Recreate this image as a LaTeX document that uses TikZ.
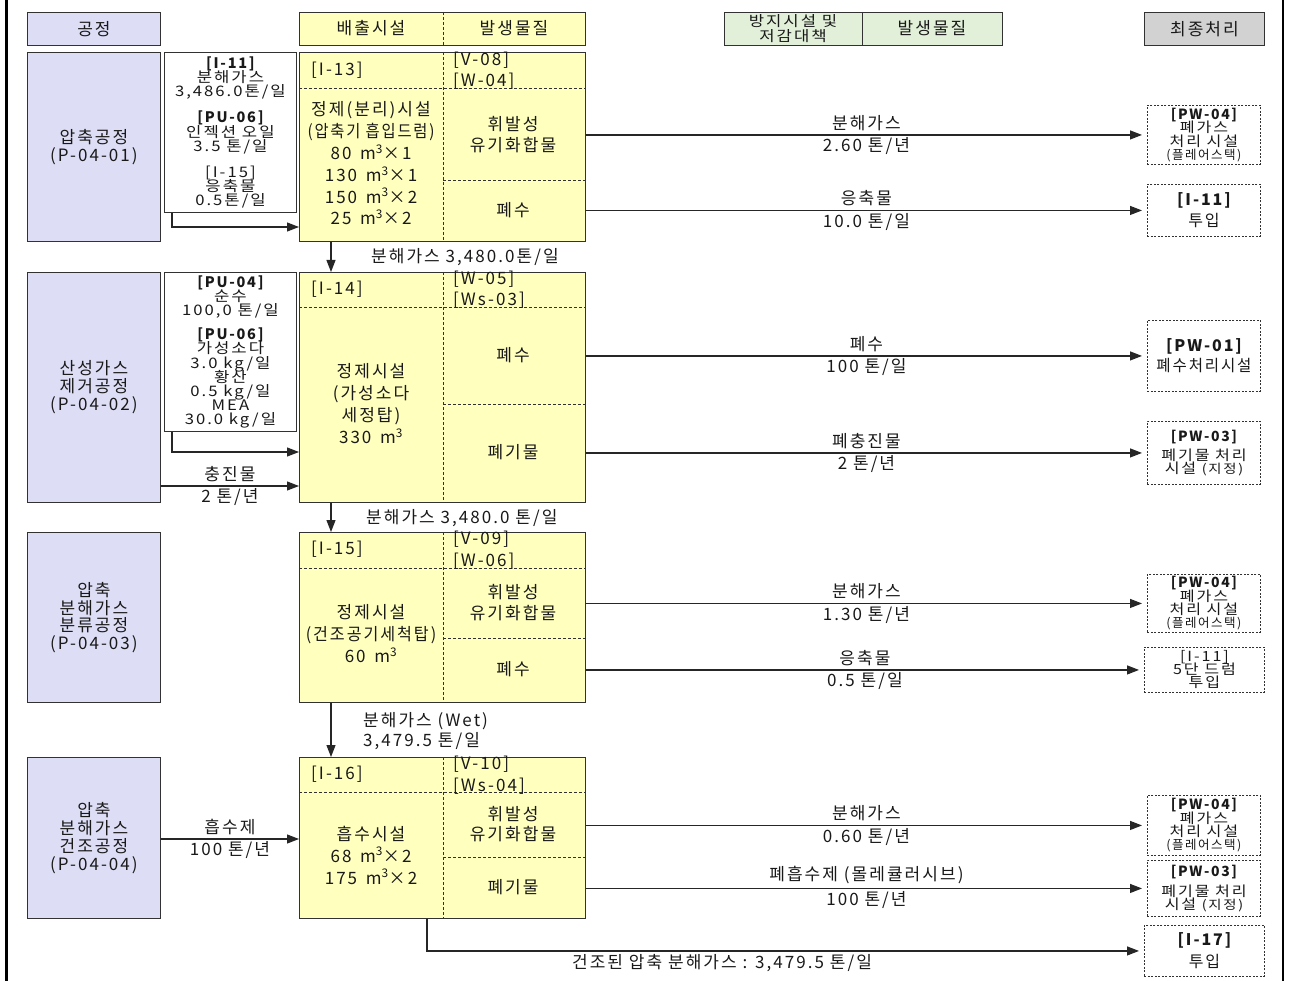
\documentclass[tikz,border=0pt]{standalone}
\usepackage{graphicx}
\usepackage{fontspec}
\setmainfont{Noto Sans CJK KR}[LetterSpace=12]
\usetikzlibrary{arrows.meta,calc}
\definecolor{lav}{RGB}{221,221,245}
\definecolor{yel}{RGB}{255,255,190}
\definecolor{grn}{RGB}{226,240,217}
\definecolor{gry}{RGB}{210,210,210}
\definecolor{bd}{RGB}{50,50,50}
\definecolor{txt}{RGB}{25,25,25}
\newcommand\tight{\lineskiplimit=-100pt\lineskip=0pt\relax}
\newcommand\fa{\fontsize{17}{22}\selectfont\tight}
\newcommand\fb{\fontsize{14.5}{14.2}\selectfont\tight}
\newcommand\fr{\fontsize{14}{13.3}\selectfont\tight}
\newcommand\fc{\fontsize{17}{18}\selectfont\tight}
\newcommand\fsm{\fontsize{12.5}{13}\selectfont\tight}
\newcommand\fbd{\bfseries}
\newcommand\msup{\textsuperscript{3}}
\newcommand\sx[2]{\scalebox{#1}[1]{#2}}
\newcommand\w[1]{\scalebox{1.15}[1]{#1}}
\tikzset{
  box/.style={draw=bd, line width=0.9pt, anchor=north west, inner sep=0pt, align=center, text=txt},
  proc/.style={box, fill=lav, font=\fc},
  inbox/.style={box, fill=white, font=\fb},
  ybox/.style={box, fill=yel},
  fin/.style={box, fill=white, dash pattern=on 2pt off 1.5pt, font=\fr},
  arr/.style={-{Triangle[length=12pt,width=9pt]}, line width=1.2pt, draw=black!85},
  dsh/.style={draw=bd, line width=0.7pt, dash pattern=on 3pt off 2pt},
  lbl/.style={font=\fa, text=txt, inner sep=0pt, align=center},
}
\begin{document}
\lineskiplimit=-100pt\lineskip=0pt
\begin{tikzpicture}[x=1pt,y=-1pt]
\useasboundingbox (0,0) rectangle (1289,981);
\draw[line width=3pt] (6,0) -- (6,981);
\draw[line width=2pt] (1283,0) -- (1283,981);

% headers
\node[proc, minimum width=133pt, minimum height=33pt] (hp) at (27,12) {공정};
\node[ybox, minimum width=286pt, minimum height=33pt] (hy) at (299,12) {};
\node[lbl] (hy1) at (371,28.5) {배출시설};
\node[lbl] (hy2) at (514,28.5) {발생물질};
\draw[dsh] ($(hy.north west)+(144,0)$) -- ($(hy.south west)+(144,0)$);
\node[box, fill=grn, minimum width=278pt, minimum height=33pt] (hg) at (724,12) {};
\node[lbl, font=\fontsize{14.5}{14.5}\selectfont\tight] (hg1) at (793,28.5) {\w{방지시설 및}\\\w{저감대책}};
\node[lbl] (hg2) at (932,28.5) {발생물질};
\draw[draw=bd, line width=0.9pt] ($(hg.north west)+(138,0)$) -- ($(hg.south west)+(138,0)$);
\node[box, fill=gry, minimum width=120pt, minimum height=33pt, font=\fa] (hf) at (1144,12) {최종처리};

% process boxes
\node[proc, minimum width=133pt, minimum height=189pt] (p1) at (27,52) {압축공정\\(P-04-01)};
\node[proc, minimum width=133pt, minimum height=230pt] (p2) at (27,272) {산성가스\\제거공정\\(P-04-02)};
\node[proc, minimum width=133pt, minimum height=170pt, font=\fontsize{17}{17.5}\selectfont\tight] (p3) at (27,532) {압축\\분해가스\\분류공정\\(P-04-03)};
\node[proc, minimum width=133pt, minimum height=161pt, font=\fontsize{17}{18}\selectfont\tight] (p4) at (27,757) {압축\\분해가스\\건조공정\\(P-04-04)};

% input boxes
\node[inbox, minimum width=132pt, minimum height=160pt] (b1) at (164,52) {{\fbd [I-11]}\\\w{분해가스}\\\w{3,486.0톤/일}\\[12pt]{\fbd [PU-06]}\\\w{인젝션 오일}\\\w{3.5 톤/일}\\[12pt]\w{[I-15]}\\\w{응축물}\\\w{0.5톤/일}};
\node[inbox, minimum width=132pt, minimum height=159pt] (b2) at (164,272) {{\fbd [PU-04]}\\\w{순수}\\\w{100,0 톤/일}\\[10pt]{\fbd [PU-06]}\\\w{가성소다}\\\w{3.0 kg/일}\\\w{황산}\\\w{0.5 kg/일}\\\w{MEA}\\\w{30.0 kg/일}};

% yellow boxes
\node[ybox, minimum width=286pt, minimum height=189pt] (y1) at (299,52) {};
\node[ybox, minimum width=286pt, minimum height=230pt] (y2) at (299,272) {};
\node[ybox, minimum width=286pt, minimum height=170pt] (y3) at (299,532) {};
\node[ybox, minimum width=286pt, minimum height=161pt] (y4) at (299,757) {};

\draw[dsh] ($(y1.north west)+(0,36)$) -- ($(y1.north east)+(0,36)$);
\draw[dsh] ($(y1.north west)+(144,0)$) -- ($(y1.south west)+(144,0)$);
\draw[dsh] ($(y1.north west)+(144,128)$) -- ($(y1.north east)+(0,128)$);
\draw[dsh] ($(y2.north west)+(0,35)$) -- ($(y2.north east)+(0,35)$);
\draw[dsh] ($(y2.north west)+(144,0)$) -- ($(y2.south west)+(144,0)$);
\draw[dsh] ($(y2.north west)+(144,132)$) -- ($(y2.north east)+(0,132)$);
\draw[dsh] ($(y3.north west)+(0,36)$) -- ($(y3.north east)+(0,36)$);
\draw[dsh] ($(y3.north west)+(144,0)$) -- ($(y3.south west)+(144,0)$);
\draw[dsh] ($(y3.north west)+(144,106)$) -- ($(y3.north east)+(0,106)$);
\draw[dsh] ($(y4.north west)+(0,35)$) -- ($(y4.north east)+(0,35)$);
\draw[dsh] ($(y4.north west)+(144,0)$) -- ($(y4.south west)+(144,0)$);
\draw[dsh] ($(y4.north west)+(144,100)$) -- ($(y4.north east)+(0,100)$);

% yellow texts row 1
\node[lbl, anchor=west] (t1a) at (311,70) {[I-13]};
\node[lbl, anchor=west] (t1b) at (453,60) {[V-08]};
\node[lbl, anchor=west] (t1c) at (453,81) {[W-04]};
\node[lbl, font=\fontsize{17}{21.8}\selectfont\tight] (t1d) at (371,163.5) {정제(분리)시설\\\sx{0.9}{(압축기 흡입드럼)}\\80 \,m\msup×1\\130 \,m\msup×1\\150 \,m\msup×2\\25 \,m\msup×2};
\node[lbl, font=\fontsize{17}{21}\selectfont\tight] (t1e) at (513,134.5) {휘발성\\유기화합물};
\node[lbl] (t1f) at (513,210) {폐수};
% row 2
\node[lbl, anchor=west] (t2a) at (311,289) {[I-14]};
\node[lbl, anchor=west] (t2b) at (453,279) {[W-05]};
\node[lbl, anchor=west] (t2c) at (453,300) {[Ws-03]};
\node[lbl] (t2d) at (371,404) {정제시설\\(가성소다\\세정탑)\\330 \,m\msup};
\node[lbl] (t2e) at (513,355) {폐수};
\node[lbl] (t2f) at (513,452) {폐기물};
% row 3
\node[lbl, anchor=west] (t3a) at (311,549) {[I-15]};
\node[lbl, anchor=west] (t3b) at (453,539) {[V-09]};
\node[lbl, anchor=west] (t3c) at (453,561) {[W-06]};
\node[lbl] (t3d) at (371,634) {정제시설\\\sx{0.95}{(건조공기세척탑)}\\60 \,m\msup};
\node[lbl, font=\fontsize{17}{21}\selectfont\tight] (t3e) at (513,602.5) {휘발성\\유기화합물};
\node[lbl] (t3f) at (513,669) {폐수};
% row 4
\node[lbl, anchor=west] (t4a) at (311,774) {[I-16]};
\node[lbl, anchor=west] (t4b) at (453,764) {[V-10]};
\node[lbl, anchor=west] (t4c) at (453,786) {[Ws-04]};
\node[lbl] (t4d) at (371,855) {흡수시설\\68 \,m\msup×2\\175 \,m\msup×2};
\node[lbl, font=\fontsize{17}{20}\selectfont\tight] (t4e) at (513,824) {휘발성\\유기화합물};
\node[lbl] (t4f) at (513,887) {폐기물};

% final boxes
\node[fin, minimum width=113pt, minimum height=59pt] (r1) at (1147,105) {{\fbd [PW-04]}\\\w{폐가스}\\\w{처리 시설}\\{\fsm(플레어스택)}};
\node[fin, minimum width=113pt, minimum height=52pt, font=\fontsize{16}{21}\selectfont\tight] (r2) at (1147,184) {{\fbd [I-11]}\\투입};
\node[fin, minimum width=113pt, minimum height=71pt, font=\fontsize{16}{20}\selectfont\tight] (r3) at (1147,320) {{\fbd [PW-01]}\\\sx{0.97}{폐수처리시설}};
\node[fin, minimum width=113pt, minimum height=63pt] (r4) at (1147,421) {{\fbd [PW-03]}\\[6pt]\w{폐기물 처리}\\\w{시설 {\fsm(지정)}}};
\node[fin, minimum width=113pt, minimum height=58pt] (r5) at (1147,574) {{\fbd [PW-04]}\\\w{폐가스}\\\w{처리 시설}\\{\fsm(플레어스택)}};
\node[fin, minimum width=120pt, minimum height=45pt, font=\fontsize{14}{13}\selectfont\tight] (r6) at (1144,647) {\w{[I-11]}\\\w{5단 드럼}\\\w{투입}};
\node[fin, minimum width=113pt, minimum height=60pt] (r7) at (1147,795) {{\fbd [PW-04]}\\\w{폐가스}\\\w{처리 시설}\\{\fsm(플레어스택)}};
\node[fin, minimum width=113pt, minimum height=56pt] (r8) at (1147,860) {{\fbd [PW-03]}\\[7pt]\w{폐기물 처리}\\\w{시설 {\fsm(지정)}}};
\node[fin, minimum width=120pt, minimum height=51pt, font=\fontsize{16}{22}\selectfont\tight] (r9) at (1144,925) {{\fbd [I-17]}\\투입};

% input arrows
\draw[arr] ($(b1.south west)+(8,0)$) |- (y1.west |- 0,227);
\draw[arr] ($(b2.south west)+(8,0)$) |- (y2.west |- 0,452);
\draw[arr] (p2.east |- 0,486) -- (y2.west |- 0,486)
  node[lbl, midway, above=4pt] (l01) {충진물} node[lbl, midway, below=2pt] (l02) {2 톤/년};
\draw[arr] (p4.east |- 0,839) -- (y4.west |- 0,839)
  node[lbl, midway, above=4pt] (l03) {흡수제} node[lbl, midway, below=2pt] (l04) {100 톤/년};

% vertical arrows
\draw[arr] ($(y1.south west)+(32,0)$) -- ($(y2.north west)+(32,0)$);
\node[lbl, anchor=west] (v1) at (371,257) {분해가스 3,480.0톤/일};
\draw[arr] ($(y2.south west)+(32,0)$) -- ($(y3.north west)+(32,0)$);
\node[lbl, anchor=west] (v2) at (366,518) {분해가스 3,480.0 톤/일};
\draw[arr] ($(y3.south west)+(32,0)$) -- ($(y4.north west)+(32,0)$);
\node[lbl, anchor=west] (v3) at (363,721) {분해가스 (Wet)};
\node[lbl, anchor=west] (v4) at (363,741) {3,479.5 톤/일};

% output arrows
\draw[arr, shorten >=5pt] (y1.east |- r1.west) -- (r1.west)
  node[lbl, midway, above=4pt] (o1a) {분해가스} node[lbl, midway, below=2pt] (o1b) {2.60 톤/년};
\draw[arr, shorten >=5pt] (y1.east |- r2.west) -- (r2.west)
  node[lbl, midway, above=4pt] (o2a) {응축물} node[lbl, midway, below=2pt] (o2b) {10.0 톤/일};
\draw[arr, shorten >=5pt] (y2.east |- r3.west) -- (r3.west)
  node[lbl, midway, above=4pt] (o3a) {폐수} node[lbl, midway, below=2pt] (o3b) {100 톤/일};
\draw[arr, shorten >=5pt] (y2.east |- r4.west) -- (r4.west)
  node[lbl, midway, above=4pt] (o4a) {폐충진물} node[lbl, midway, below=2pt] (o4b) {2 톤/년};
\draw[arr, shorten >=5pt] (y3.east |- r5.west) -- (r5.west)
  node[lbl, midway, above=4pt] (o5a) {분해가스} node[lbl, midway, below=2pt] (o5b) {1.30 톤/년};
\draw[arr, shorten >=5pt] (y3.east |- r6.west) -- (r6.west)
  node[lbl, midway, above=4pt] (o6a) {응축물} node[lbl, midway, below=2pt] (o6b) {0.5 톤/일};
\draw[arr, shorten >=5pt] (y4.east |- r7.west) -- (r7.west)
  node[lbl, midway, above=4pt] (o7a) {분해가스} node[lbl, midway, below=2pt] (o7b) {0.60 톤/년};
\draw[arr, shorten >=5pt] (y4.east |- r8.west) -- (r8.west)
  node[lbl, midway, above=4pt] (o8a) {폐흡수제 (몰레큘러시브)} node[lbl, midway, below=2pt] (o8b) {100 톤/년};
\draw[arr, shorten >=5pt] ($(y4.south west)+(128,0)$) |- (r9.west);
\node[lbl] (o9) at (722,963) {건조된 압축 분해가스 : 3,479.5 톤/일};
\end{tikzpicture}
\end{document}
